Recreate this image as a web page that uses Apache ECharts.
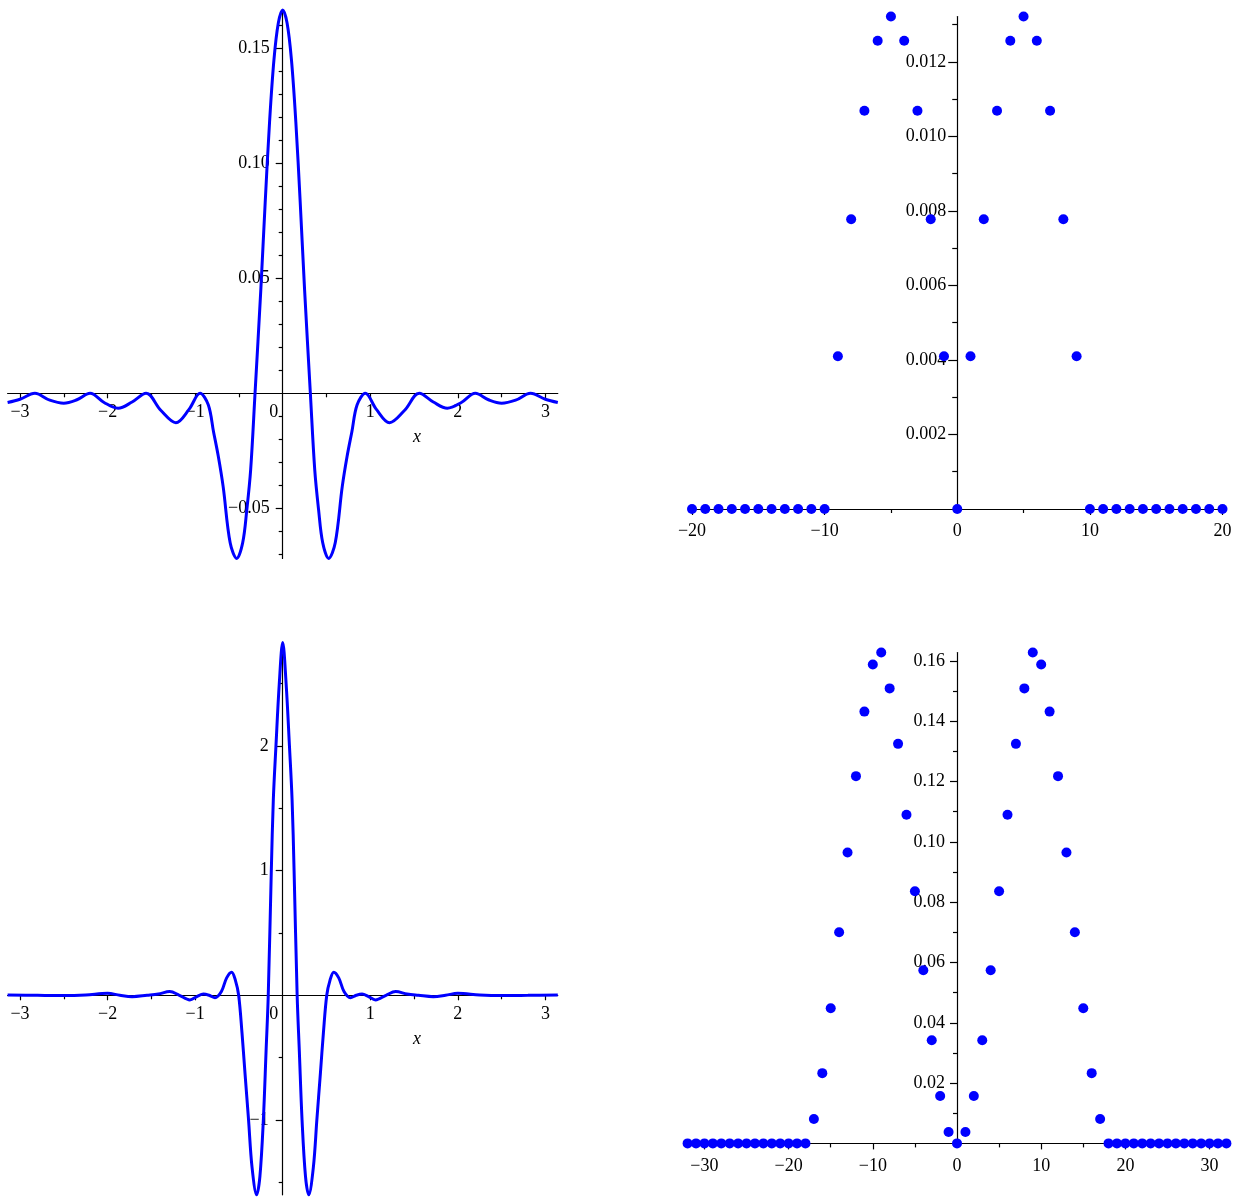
<!DOCTYPE html>
<html><head><meta charset="utf-8">
<script src="https://cdn.jsdelivr.net/npm/echarts@6/dist/echarts.min.js"></script>
<style>html,body{margin:0;padding:0;background:#fff}#c{width:1245px;height:1201px}</style>
</head><body><div id="c"></div>
<script>
// ---- Top-left curve ----
const tlX = [-3.1416,-3.00,-2.83,-2.66,-2.50,-2.35,-2.20,-2.04,-1.88,-1.72,-1.56,-1.39,-1.22,-1.07,-0.944,-0.85,-0.79,-0.735,-0.68,-0.60,-0.525,-0.457,-0.41,-0.366,-0.316,-0.25,-0.20,-0.15,-0.10,-0.05,0.00,
  0.05,0.10,0.15,0.20,0.25,0.316,0.366,0.41,0.457,0.525,0.60,0.68,0.735,0.79,0.85,0.944,1.07,1.22,1.39,1.56,1.72,1.88,2.04,2.20,2.35,2.50,2.66,2.83,3.00,3.1416];
const tlY = [-0.0040,-0.0026,0.0000,-0.0030,-0.0043,-0.0028,0.0000,-0.0040,-0.0065,-0.0038,0.0000,-0.0075,-0.0128,-0.0070,0.0000,-0.0050,-0.0167,-0.0275,-0.0406,-0.0650,-0.0718,-0.0650,-0.0507,-0.0333,0.0000,0.0450,0.0830,0.1180,0.1450,0.1610,0.1667,
  0.1610,0.1450,0.1180,0.0830,0.0450,0.0000,-0.0333,-0.0507,-0.0650,-0.0718,-0.0650,-0.0406,-0.0275,-0.0167,-0.0050,0.0000,-0.0070,-0.0128,-0.0075,0.0000,-0.0038,-0.0065,-0.0040,0.0000,-0.0028,-0.0043,-0.0030,0.0000,-0.0026,-0.0040];

// ---- Top-right coefficients ----
const trK = [-20,-19,-18,-17,-16,-15,-14,-13,-12,-11,-10,-9,-8,-7,-6,-5,-4,-3,-2,-1,0,1,2,3,4,5,6,7,8,9,10,11,12,13,14,15,16,17,18,19,20];
const trV = [0,0,0,0,0,0,0,0,0,0,0,0.0041,0.00778,0.01069,0.01257,0.01322,0.01257,0.01069,0.00778,0.0041,0,
  0.0041,0.00778,0.01069,0.01257,0.01322,0.01257,0.01069,0.00778,0.0041,0,0,0,0,0,0,0,0,0,0,0];

// ---- Bottom-left curve ----
const blX = [-3.1416,-2.80,-2.50,-2.25,-2.00,-1.86,-1.72,-1.55,-1.42,-1.29,-1.18,-1.06,-0.98,-0.906,-0.84,-0.773,-0.70,-0.64,-0.583,-0.54,-0.503,-0.465,-0.43,-0.39,-0.35,-0.297,-0.26,-0.221,-0.19,-0.165,-0.13,-0.107,-0.077,-0.039,0.00,
  0.039,0.077,0.107,0.13,0.165,0.19,0.221,0.26,0.297,0.35,0.39,0.43,0.465,0.503,0.54,0.583,0.64,0.70,0.773,0.84,0.906,0.98,1.06,1.18,1.29,1.42,1.55,1.72,1.86,2.00,2.25,2.50,2.80,3.1416];
const blY = [0.003,0.000,-0.002,0.003,0.016,0.000,-0.011,0.000,0.010,0.030,0.000,-0.037,-0.010,0.010,0.000,-0.020,0.030,0.140,0.185,0.120,0.000,-0.300,-0.630,-1.000,-1.380,-1.600,-1.450,-1.000,-0.450,0.000,1.000,1.570,2.000,2.500,2.830,
  2.500,2.000,1.570,1.000,0.000,-0.450,-1.000,-1.450,-1.600,-1.380,-1.000,-0.630,-0.300,0.000,0.120,0.185,0.140,0.030,-0.020,0.000,0.010,-0.010,-0.037,0.000,0.030,0.010,0.000,-0.011,0.000,0.016,0.003,-0.002,0.000,0.003];

// ---- Bottom-right coefficients ----
const brK = [-32,-31,-30,-29,-28,-27,-26,-25,-24,-23,-22,-21,-20,-19,-18,-17,-16,-15,-14,-13,-12,-11,-10,-9,-8,-7,-6,-5,-4,-3,-2,-1,0,
  1,2,3,4,5,6,7,8,9,10,11,12,13,14,15,16,17,18,19,20,21,22,23,24,25,26,27,28,29,30,31,32];
const brV = [0,0,0,0,0,0,0,0,0,0,0,0,0,0,0,0.0081,0.0233,0.0448,0.0700,0.0965,0.1218,0.1432,0.1588,0.1628,0.1509,0.1325,0.1090,0.0836,0.0574,0.0342,0.0157,0.0038,0,
  0.0038,0.0157,0.0342,0.0574,0.0836,0.1090,0.1325,0.1509,0.1628,0.1588,0.1432,0.1218,0.0965,0.0700,0.0448,0.0233,0.0081,0,0,0,0,0,0,0,0,0,0,0,0,0,0,0];

// ---- Tick values ----
const lineXLabels = [-3,-2,-1,0,1,2,3];
const lineXMajor = [-3,-2,-1,1,2,3];
const lineXMinor = [-2.5,-1.5,-0.5,0.5,1.5,2.5];
const tlYLabels = [-0.05,0.05,0.10,0.15];
const tlYMinor = [-0.07,-0.06,-0.04,-0.03,-0.02,-0.01,0.01,0.02,0.03,0.04,0.06,0.07,0.08,0.09,0.11,0.12,0.13,0.14,0.16];
const trXLabels = [-20,-10,0,10,20];
const trXMajor = [-20,-10,10,20];
const trXMinor = [-15,-5,5,15];
const trYLabels = [0.002,0.004,0.006,0.008,0.010,0.012];
const trYMinor = [0.001,0.003,0.005,0.007,0.009,0.011,0.013];
const blYLabels = [-1,1,2];
const blYMinor = [-1.5,-0.5,0.5,1.5,2.5];
const brXLabels = [-30,-20,-10,0,10,20,30];
const brXMajor = [-30,-20,-10,10,20,30];
const brXMinor = [-25,-15,-5,5,15,25];
const brYLabels = [0.02,0.04,0.06,0.08,0.10,0.12,0.14,0.16];
const brYMinor = [0.01,0.03,0.05,0.07,0.09,0.11,0.13,0.15];

const FONT = '"Liberation Serif","Times New Roman",Times,serif';
const BLUE = '#0000ff';
const PI = Math.PI;
const pairs = (xs, ys) => xs.map((x, i) => [x, ys[i]]);
const signed = s => s.replace('-', '\u2212');

// panel layouts (grid boxes and value ranges)
const panels = [
  { grid: { left: 7.6, top: 10, width: 550.2, height: 548.4 }, xr: [-PI, PI], yr: [-0.0718, 0.1667] },
  { grid: { left: 692, top: 16.5, width: 530.5, height: 492.5 }, xr: [-20, 20], yr: [0, 0.01322] },
  { grid: { left: 7.6, top: 642.4, width: 550.2, height: 552.4 }, xr: [-PI, PI], yr: [-1.60, 2.83] },
  { grid: { left: 687.6, top: 652.5, width: 538.8, height: 490.9 }, xr: [-32, 32], yr: [0, 0.1628] }
];

function axisPair(dim, gi, majors, minors, labels, fmt, majLen, minLen, margin) {
  const p = panels[gi];
  const pos = dim === 'x' ? 'bottom' : 'left';
  const range = dim === 'x' ? p.xr : p.yr;
  // axes drawn through the origin: shift from grid edge to the zero of the other axis
  const offset = dim === 'x'
    ? -(-p.yr[0]) / (p.yr[1] - p.yr[0]) * p.grid.height
    : -(-p.xr[0]) / (p.xr[1] - p.xr[0]) * p.grid.width;
  const main = {
    type: 'value', gridIndex: gi, min: range[0], max: range[1], position: pos, offset: offset,
    axisLine: { show: true, onZero: false, lineStyle: { color: '#000', width: 1.2 } },
    axisTick: { show: true, customValues: majors, length: majLen, lineStyle: { color: '#000', width: 1.2 } },
    axisLabel: { show: true, customValues: labels, formatter: fmt, margin: margin, color: '#000',
      fontFamily: FONT, fontSize: 18,
      rich: { z: { padding: [0, 18, 0, 0], color: '#000', fontFamily: FONT, fontSize: 18 } } },
    splitLine: { show: false }, minorTick: { show: false }
  };
  const minor = {
    type: 'value', gridIndex: gi, min: range[0], max: range[1], position: pos, offset: offset,
    axisLine: { show: false, onZero: false },
    axisTick: { show: true, customValues: minors, length: minLen, lineStyle: { color: '#000', width: 1.2 } },
    axisLabel: { show: false }, splitLine: { show: false }, minorTick: { show: false }
  };
  return [main, minor];
}

const intFmt = v => v === 0 ? '{z|0}' : signed(String(Math.round(v)));
const plainInt = v => signed(String(Math.round(v)));
const dec = n => v => signed(v.toFixed(n));

const xAxis = [
  ...axisPair('x', 0, lineXMajor, lineXMinor, lineXLabels, intFmt, 5, 4, 10),
  ...axisPair('x', 1, trXMajor, trXMinor, trXLabels, plainInt, 6, 4, 13),
  ...axisPair('x', 2, lineXMajor, lineXMinor, lineXLabels, intFmt, 5, 4, 10),
  ...axisPair('x', 3, brXMajor, brXMinor, brXLabels, plainInt, 6, 4, 14)
];
const yAxis = [
  ...axisPair('y', 0, tlYLabels, tlYMinor, tlYLabels, dec(2), 7, 4, 13),
  ...axisPair('y', 1, trYLabels, trYMinor, trYLabels, dec(3), 9, 5, 11),
  ...axisPair('y', 2, blYLabels, blYMinor, blYLabels, plainInt, 7, 4, 14),
  ...axisPair('y', 3, brYLabels, brYMinor, brYLabels, dec(2), 7, 4, 12)
];

const option = {
  animation: false,
  backgroundColor: '#fff',
  grid: panels.map(p => Object.assign({ containLabel: false, outerBoundsMode: 'none' }, p.grid)),
  xAxis: xAxis,
  yAxis: yAxis,
  series: [
    { type: 'line', xAxisIndex: 0, yAxisIndex: 0, data: pairs(tlX, tlY), symbol: 'none', smooth: 0.35,
      lineStyle: { color: BLUE, width: 3 }, clip: false },
    { type: 'scatter', xAxisIndex: 2, yAxisIndex: 2, data: pairs(trK, trV), symbolSize: 10,
      itemStyle: { color: BLUE, opacity: 1 }, clip: false },
    { type: 'line', xAxisIndex: 4, yAxisIndex: 4, data: pairs(blX, blY), symbol: 'none', smooth: 0.35,
      lineStyle: { color: BLUE, width: 3 }, clip: false },
    { type: 'scatter', xAxisIndex: 6, yAxisIndex: 6, data: pairs(brK, brV), symbolSize: 10,
      itemStyle: { color: BLUE, opacity: 1 }, clip: false }
  ],
  graphic: [
    { type: 'text', left: 413, top: 428, style: { text: 'x', font: 'italic 18px ' + FONT, fill: '#000' } },
    { type: 'text', left: 413, top: 1030, style: { text: 'x', font: 'italic 18px ' + FONT, fill: '#000' } }
  ]
};

const chart = echarts.init(document.getElementById('c'), null, { renderer: 'canvas' });
chart.setOption(option);
</script>
</body></html>
